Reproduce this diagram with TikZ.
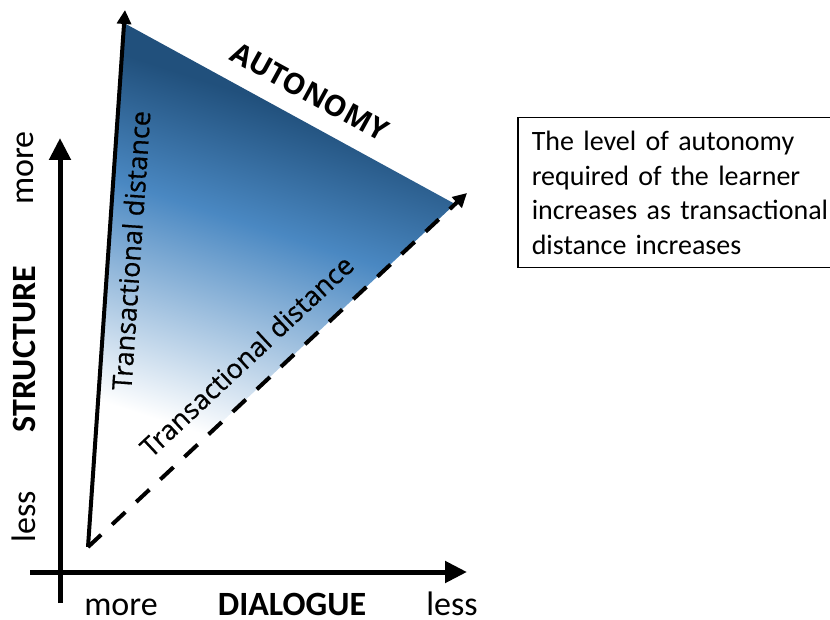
\documentclass[tikz,border=0pt]{standalone}
\usepackage{fontspec}
\setmainfont{Carlito}
\newfontfamily\distfont{Open Sans}[FakeBold=0.5]
\newfontfamily\autofont{Open Sans Bold}
\usetikzlibrary{arrows.meta}
\definecolor{autodark}{RGB}{33,80,124}
\definecolor{automid}{RGB}{74,136,194}
\pgfdeclareverticalshading{autonomyfill}{100bp}{color(0bp)=(white); color(39bp)=(white); color(60bp)=(automid); color(72bp)=(autodark); color(100bp)=(autodark)}

\begin{document}
\begin{tikzpicture}[x=1pt, y=1pt,
    axis/.style={line width=5pt, -{Triangle[length=22pt,width=21pt]}},
    edge/.style={line width=4pt, -{Triangle[length=14pt,width=14pt]}},
    axislabel/.style={font=\fontsize{34}{40}\selectfont, inner sep=0pt},
    distlabel/.style={font=\distfont\fontsize{27}{32}\selectfont, sloped, inner sep=0pt}]
    \clip (0,0) rectangle (830,-620);
    % axes
    \coordinate (ybot) at (60,-603);
    \coordinate (ytop) at (60,-138);
    \coordinate (xleft) at (30,-572);
    \coordinate (xright) at (467,-572);
    \draw[axis] (ybot) -- (ytop);
    \draw[axis] (xleft) -- (xright);
    % axis labels
    \node[axislabel, rotate=90, anchor=base] (smore) at (34,-168) {more};
    \node[axislabel, rotate=90, anchor=base] (structure) at (35,-349) {\bfseries STRUCTURE};
    \node[axislabel, rotate=90, anchor=base] (sless) at (35,-517) {less};
    \node[axislabel, anchor=base] (dmore) at (121,-615) {more};
    \node[axislabel, anchor=base] (dialogue) at (292,-615) {\bfseries DIALOGUE};
    \node[axislabel, anchor=base] (dless) at (452,-615) {less};
    % triangle
    \coordinate (apex) at (88,-547);
    \coordinate (peak) at (125,-10);
    \coordinate (corner) at (467,-193);
    \coordinate (topv) at (124,-23);
    \coordinate (rightv) at (455,-204);
    \begin{scope}
        \clip (apex) -- (topv) -- (rightv) -- cycle;
        \shade[shading=autonomyfill, transform canvas={rotate around={-18:(apex)}}]
            (-47,-547) rectangle (338,-37);
    \end{scope}
    \draw[edge] (apex) -- (peak)
        node[distlabel, pos=0.555, below=10pt] (leftdist) {Transactional distance};
    \draw[edge, dash pattern=on 18pt off 15pt] (apex) -- (corner)
        node[distlabel, pos=0.475, above=19pt] (lowdist) {Transactional distance};
    \path (topv) -- (rightv)
        node[distlabel, font=\autofont\fontsize{29}{34}\selectfont, pos=0.52, above=18pt] (autonomy) {AUTONOMY};
    % note
    \node[draw, line width=1.5pt, anchor=north west, text width=310pt, inner xsep=14pt,
        minimum height=150pt, align=left, font=\fontsize{28}{34.7}\selectfont] (note)
        at (517,-117) {The level of autonomy\\ required of the learner\\ increases as transactional\\ distance increases};
\end{tikzpicture}
\end{document}
